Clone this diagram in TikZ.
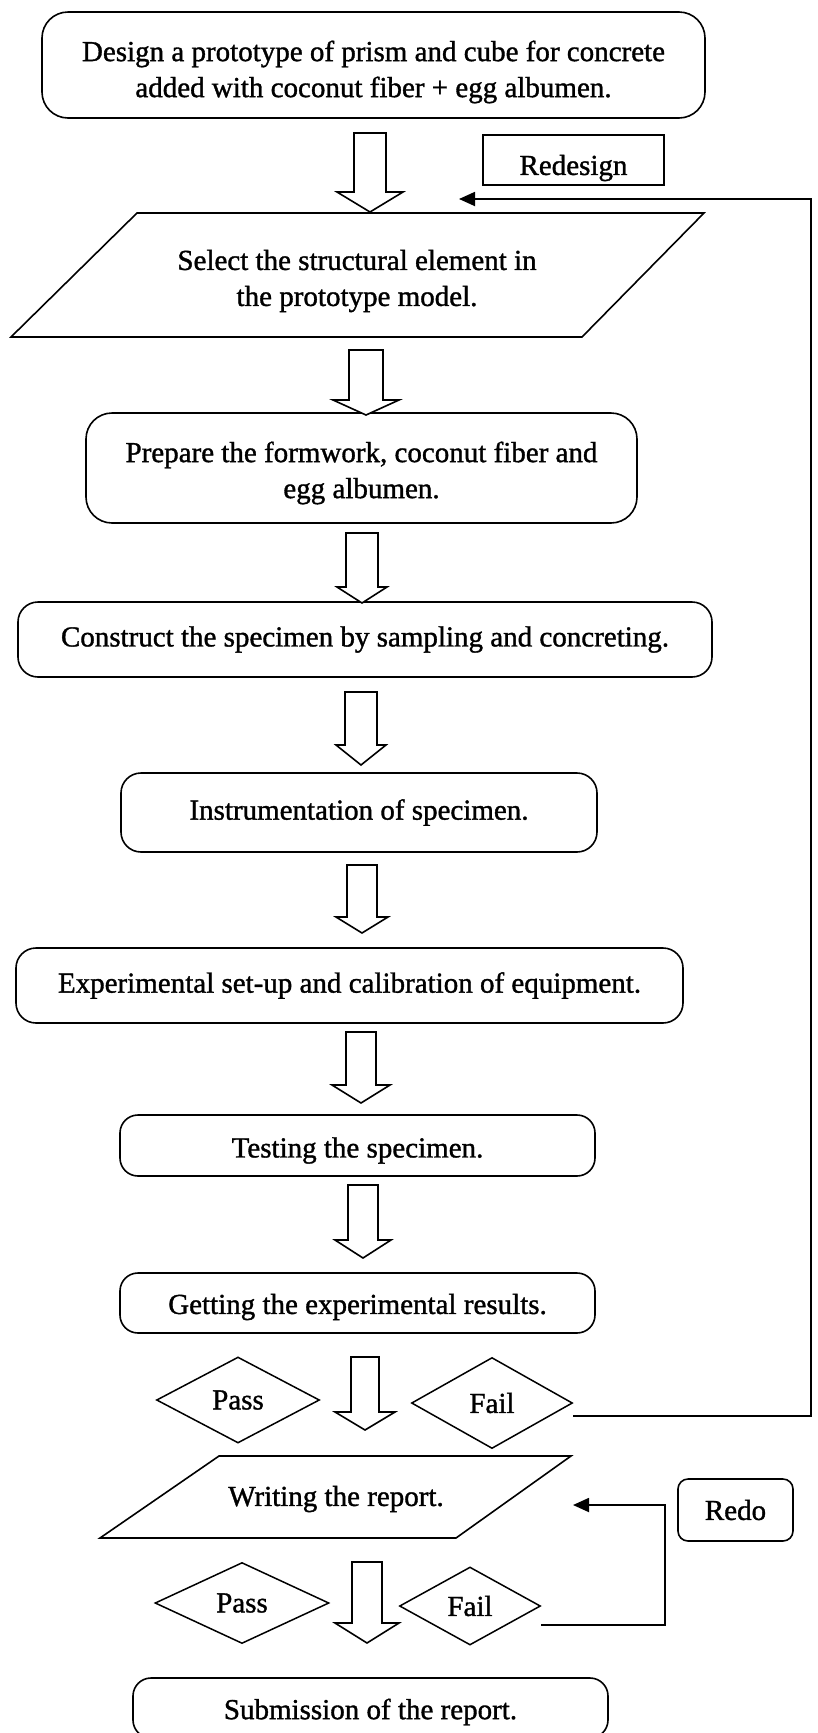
\documentclass[tikz,border=0pt]{standalone}
\usepackage{fontspec}
\setmainfont{Liberation Serif}[FakeBold=1.2]
\usetikzlibrary{shapes.geometric,arrows.meta}
\newcommand\barrow[6]{\draw[blk] (#1-#5,#2) -- (#1+#5,#2) -- (#1+#5,#3) -- (#1+#6,#3) -- (#1,#4) -- (#1-#6,#3) -- (#1-#5,#3) -- cycle;}
\begin{document}
\begin{tikzpicture}[x=1pt,y=-1pt,
  every node/.style={font=\fontsize{29}{36}\selectfont, inner sep=0pt, align=center},
  rbox/.style={draw, rectangle, line width=1.6pt, rounded corners=#1},
  rbox/.default=26pt,
  sbox/.style={draw, rectangle, line width=1.6pt},
  dia/.style={draw, diamond, line width=1.5pt, inner sep=0pt},
  para/.style={draw, line width=1.6pt, line join=miter},
  blk/.style={draw, line width=1.6pt, fill=white, line join=miter},
  fb/.style={line width=1.8pt, -{Triangle[length=16pt,width=14pt]}}
]
\useasboundingbox (0,0) rectangle (818,1733);
\fill[white] (0,0) rectangle (818,1733);

% boxes
\node[rbox, minimum width=663, minimum height=106,
  label={[yshift=-7pt]center:{Design a prototype of prism and cube for concrete\\added with coconut fiber + egg albumen.}}] (b1) at (373.5,65) {};
\node[sbox, minimum width=181, minimum height=50,
  label={[yshift=-8pt]center:Redesign}] (redesign) at (573.5,160) {};

\draw[para] (137,213) -- (704,213) -- (582,337) -- (11,337) -- cycle;
\node (p1) at (357,281) {Select the structural element in\\the prototype model.};

\node[rbox, minimum width=551, minimum height=110,
  label={[yshift=-5pt]center:{Prepare the formwork, coconut fiber and\\egg albumen.}}] (b2) at (361.5,468) {};
\node[rbox=20pt, minimum width=694, minimum height=75] (b3) at (365,639.5)
  {Construct the specimen by sampling and concreting.};
\node[rbox=20pt, minimum width=476, minimum height=79] (b4) at (359,812.5)
  {Instrumentation of specimen.};
\node[rbox=20pt, minimum width=667, minimum height=75] (b5) at (349.5,985.5)
  {Experimental set-up and calibration of equipment.};
\node[rbox=18pt, minimum width=475, minimum height=61,
  label={[yshift=-5pt]center:Testing the specimen.}] (b6) at (357.5,1145.5) {};
\node[rbox=18pt, minimum width=475, minimum height=60,
  label={[yshift=-4pt]center:Getting the experimental results.}] (b7) at (357.5,1303) {};

\node[dia, minimum width=163, minimum height=86] (pass1) at (238,1400) {Pass};
\node[dia, minimum width=161, minimum height=91] (fail1) at (492,1403) {Fail};

\draw[para] (219,1456) -- (571,1456) -- (456,1538) -- (100,1538) -- cycle;
\node (p2) at (336,1499) {Writing the report.};

\node[rbox=10pt, minimum width=115, minimum height=62] (redo) at (735.5,1510) {Redo};

\node[dia, minimum width=174, minimum height=81] (pass2) at (242,1603) {Pass};
\node[dia, minimum width=141, minimum height=78] (fail2) at (470,1606) {Fail};

\node[rbox=18pt, minimum width=475, minimum height=60,
  label={[yshift=-4pt]center:Submission of the report.}] (b8) at (370.5,1708) {};

% block arrows
\barrow{370}{133}{192}{212}{16}{33}
\barrow{366}{350}{400}{415}{17}{33}
\barrow{362}{533}{587}{603}{16}{25}
\barrow{361}{692}{745}{765}{16}{25}
\barrow{362}{865}{917}{933}{15}{26}
\barrow{361}{1032}{1085}{1103}{15}{29}
\barrow{363}{1185}{1240}{1258}{15}{28}
\barrow{365}{1357}{1412}{1430}{14}{30}
\barrow{367}{1562}{1623}{1643}{15}{32}

% feedback lines
\coordinate (r1) at (811,199);
\coordinate (t1) at (459,199);
\draw[fb] ([yshift=-13pt]fail1.east) -| (r1) -- (t1);
\coordinate (r2) at (665,1505);
\coordinate (t2) at (573,1505);
\draw[fb] ([yshift=-19pt]fail2.east) -| (r2) -- (t2);
\end{tikzpicture}
\end{document}
